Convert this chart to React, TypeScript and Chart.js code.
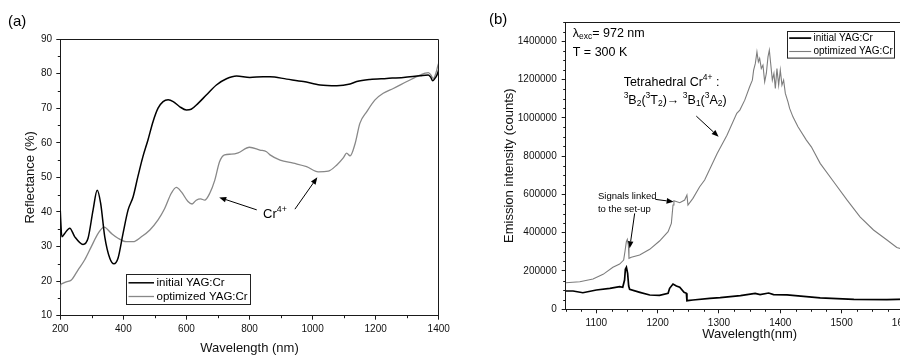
import React, { useEffect, useRef } from "react";
import { Chart, registerables } from "chart.js";

Chart.register(...registerables);

const FONT = "'Liberation Sans', Arial, Helvetica, sans-serif";
const SERIES = ["initial YAG:Cr", "optimized YAG:Cr"];

// ---------- Panel (a): diffuse reflectance ----------
const reflWlInitial = [200, 201, 205, 214, 230, 246, 272, 288, 304, 317, 328, 341, 357, 370, 383, 399, 415, 431, 446, 462, 478, 494, 510, 526, 542, 558, 579, 600, 615, 637, 663, 695, 727, 759, 801, 843, 865, 918, 971, 1024, 1077, 1119, 1140, 1182, 1235, 1288, 1341, 1367, 1375, 1381, 1388, 1394, 1400];
const reflInitial = [40.4, 38.2, 32.8, 33.8, 35.3, 32.8, 30.6, 32.4, 40.6, 46.3, 42.5, 32.8, 26.6, 25.0, 26.6, 33.8, 40.6, 44.4, 50.2, 56.0, 60.8, 66.1, 70.0, 71.9, 72.4, 71.9, 70.4, 69.5, 69.7, 71.4, 73.8, 76.7, 78.5, 79.3, 78.9, 79.1, 79.1, 78.4, 77.7, 76.7, 76.5, 77.0, 77.7, 78.3, 78.6, 78.9, 79.4, 79.6, 78.9, 77.9, 78.6, 79.5, 81.0];
const reflWlOptimized = [200, 201, 204, 219, 235, 256, 277, 298, 320, 339, 362, 383, 409, 431, 457, 484, 510, 531, 552, 568, 584, 605, 618, 631, 645, 658, 674, 690, 705, 721, 742, 764, 800, 833, 854, 865, 897, 939, 981, 1018, 1050, 1077, 1098, 1108, 1119, 1135, 1150, 1172, 1198, 1224, 1256, 1299, 1330, 1357, 1367, 1375, 1383, 1391, 1398, 1400];
const reflOptimized = [17.4, 18.9, 19.2, 19.8, 20.3, 23.2, 26.1, 29.9, 33.8, 35.6, 33.8, 32.4, 31.4, 31.4, 32.8, 34.8, 37.7, 41.0, 45.4, 47.1, 45.8, 43.0, 42.3, 43.4, 43.8, 43.4, 45.4, 49.2, 54.5, 56.5, 56.7, 57.1, 58.7, 57.9, 57.4, 56.5, 55.0, 54.1, 53.1, 51.6, 51.8, 53.6, 55.7, 57.0, 56.2, 59.8, 65.6, 69.0, 72.4, 74.3, 75.7, 77.7, 79.1, 80.1, 80.3, 79.6, 78.6, 80.1, 82.5, 83.0];
const reflXRange = [200, 1400];
const reflYRange = [10, 90];
const reflXSteps = [100, 200]; // minor, major
const reflYSteps = [5, 10];

// ---------- Panel (b): emission spectra ----------
const emWlInitial = [1050, 1062, 1078, 1100, 1122, 1138, 1143, 1146, 1147.3, 1149, 1151, 1152.7, 1154.3, 1171, 1187, 1203, 1217, 1219.5, 1225, 1230.5, 1236, 1243, 1246.8, 1247.7, 1257.5, 1285, 1302, 1335, 1359, 1367, 1381, 1389, 1411, 1465, 1520, 1574, 1608, 1620];
const emInitial = [95500, 95500, 86600, 100700, 109600, 117900, 114800, 152900, 208700, 219200, 187800, 121600, 104400, 88700, 74600, 73100, 83500, 109600, 132000, 121600, 114800, 88700, 83500, 44900, 48500, 57400, 61000, 71000, 83000, 77000, 85000, 77000, 75000, 60000, 52000, 50000, 53000, 54000];
const emWlOptimized = [1050, 1073, 1094.5, 1111, 1127, 1138, 1144.5, 1146.6, 1148.9, 1150.5, 1152.2, 1153.2, 1157, 1170.6, 1187, 1203, 1217, 1222.3, 1225, 1226.5, 1236, 1244, 1247.7, 1249.4, 1257.5, 1268.5, 1276.6, 1297, 1313, 1329, 1334, 1342, 1350, 1354.4, 1356.5, 1359.3, 1361.9, 1364.2, 1366.3, 1369, 1371.7, 1374.5, 1377.2, 1379.9, 1382.1, 1384.3, 1387, 1389.6, 1391.9, 1394.5, 1397.3, 1400, 1402.7, 1405.4, 1408.2, 1412.5, 1415.2, 1420.6, 1428.8, 1442.5, 1450.6, 1465, 1487, 1509, 1530, 1552, 1574, 1590, 1608, 1620];
const emOptimized = [138800, 144000, 158100, 182600, 219200, 236400, 257300, 300600, 352700, 365300, 335500, 266100, 271300, 283300, 313100, 356400, 404900, 448700, 544200, 566700, 556300, 570300, 596400, 544200, 579200, 639700, 674700, 814000, 909000, 1023000, 1040000, 1092000, 1161600, 1196500, 1248700, 1283600, 1344000, 1292000, 1309700, 1257500, 1274800, 1187600, 1231400, 1318000, 1353000, 1283600, 1196500, 1231400, 1153200, 1257500, 1170400, 1248700, 1170400, 1196500, 1127100, 1083300, 1048800, 1004900, 952800, 883400, 848400, 762000, 666000, 570000, 483000, 414000, 362000, 323000, 306000, 290000];
const emXRange = [1050, 1650];
const emYRange = [0, 1500000];
const emXSteps = [25, 100];
const emYSteps = [50000, 200000];

const AXIS = "#1a1a1a";

type Seg = { t: string; s?: "sup" | "sub" };
type Note =
  | { kind: "text"; x: number; y: number; size: number; segs: Seg[] }
  | { kind: "arrow"; x1: number; y1: number; x2: number; y2: number };

type LegendSpec = {
  x: number; y: number; w: number; h: number; size: number;
  s0: number; s1: number; tx: number; rows: number[];
};

type PanelSpec = {
  id: string;
  label: string;
  labelX: number;
  labelY: number;
  xSteps: number[];
  ySteps: number[];
  legend: LegendSpec;
  notes: Note[];
};

function isMajor(v: number, step: number) {
  const r = v / step;
  return Math.abs(r - Math.round(r)) < 1e-6;
}

function drawRich(ctx: CanvasRenderingContext2D, segs: Seg[], x: number, y: number, size: number) {
  let cx = x;
  ctx.textBaseline = "middle";
  ctx.textAlign = "left";
  for (const seg of segs) {
    const fs = seg.s ? size * 0.68 : size;
    ctx.font = `${fs}px ${FONT}`;
    const dy = seg.s === "sup" ? -size * 0.36 : seg.s === "sub" ? size * 0.3 : 0;
    ctx.fillText(seg.t, cx, y + dy);
    cx += ctx.measureText(seg.t).width;
  }
}

function drawArrow(ctx: CanvasRenderingContext2D, x1: number, y1: number, x2: number, y2: number) {
  const ang = Math.atan2(y2 - y1, x2 - x1);
  const L = 7, W = 2.8;
  const bx = x2 - L * Math.cos(ang), by = y2 - L * Math.sin(ang);
  ctx.beginPath();
  ctx.moveTo(x1, y1);
  ctx.lineTo(bx, by);
  ctx.stroke();
  ctx.beginPath();
  ctx.moveTo(x2, y2);
  ctx.lineTo(bx + W * Math.sin(ang), by - W * Math.cos(ang));
  ctx.lineTo(bx - W * Math.sin(ang), by + W * Math.cos(ang));
  ctx.closePath();
  ctx.fill();
}

function makeOverlay(spec: PanelSpec) {
  return {
    id: "overlay_" + spec.id,
    afterDraw(chart: any) {
      const { ctx, chartArea: a, scales } = chart;
      const xs = scales.x, ys = scales.y;
      ctx.save();
      ctx.strokeStyle = AXIS;
      ctx.fillStyle = "#000";
      ctx.lineWidth = 1;
      // frame top and right
      const top = Math.round(a.top) + 0.5;
      const right = Math.round(a.right) - 0.5;
      ctx.beginPath();
      ctx.moveTo(a.left, top);
      ctx.lineTo(right, top);
      ctx.lineTo(right, a.bottom);
      ctx.stroke();
      // minor ticks
      ctx.beginPath();
      for (const t of xs.ticks) {
        if (isMajor(t.value, spec.xSteps[1])) continue;
        const p = Math.round(xs.getPixelForValue(t.value)) + 0.5;
        ctx.moveTo(p, a.bottom);
        ctx.lineTo(p, a.bottom + 2.5);
      }
      for (const t of ys.ticks) {
        if (isMajor(t.value, spec.ySteps[1])) continue;
        const p = Math.round(ys.getPixelForValue(t.value)) + 0.5;
        ctx.moveTo(a.left, p);
        ctx.lineTo(a.left - 2.5, p);
      }
      ctx.stroke();
      // panel label
      ctx.font = `15px ${FONT}`;
      ctx.textBaseline = "middle";
      ctx.textAlign = "left";
      ctx.fillText(spec.label, spec.labelX, spec.labelY);
      // annotations
      ctx.strokeStyle = "#000";
      for (const n of spec.notes) {
        if (n.kind === "text") {
          drawRich(ctx, n.segs, xs.getPixelForValue(n.x), ys.getPixelForValue(n.y), n.size);
        } else {
          drawArrow(ctx, xs.getPixelForValue(n.x1), ys.getPixelForValue(n.y1), xs.getPixelForValue(n.x2), ys.getPixelForValue(n.y2));
        }
      }
      // legend
      const lg = spec.legend;
      const lx = Math.round(xs.getPixelForValue(lg.x)) + 0.5;
      const ly = Math.round(ys.getPixelForValue(lg.y)) + 0.5;
      ctx.fillStyle = "#fff";
      ctx.fillRect(lx, ly, lg.w, lg.h);
      ctx.strokeStyle = "#222";
      ctx.lineWidth = 1;
      ctx.strokeRect(lx, ly, lg.w, lg.h);
      chart.data.datasets.forEach((ds: any, i: number) => {
        const ry = ly + lg.rows[i];
        ctx.strokeStyle = ds.borderColor;
        ctx.lineWidth = ds.borderWidth;
        ctx.beginPath();
        ctx.moveTo(lx + lg.s0, ry);
        ctx.lineTo(lx + lg.s1, ry);
        ctx.stroke();
        ctx.fillStyle = "#000";
        ctx.font = `${lg.size}px ${FONT}`;
        ctx.textBaseline = "middle";
        ctx.fillText(ds.label, lx + lg.tx, ry);
      });
      ctx.restore();
    },
  };
}

function axisOptions(opts: {
  range: number[]; steps: number[]; title: string; titlePad: any; size: number; horizontal: boolean; tickPad: number;
}) {
  return {
    type: "linear",
    min: opts.range[0],
    max: opts.range[1],
    afterFit: (s: any) => {
      if (opts.horizontal) s.height = opts.size;
      else s.width = opts.size;
    },
    border: { display: true, color: AXIS, width: 1 },
    grid: {
      drawOnChartArea: false,
      drawTicks: true,
      tickLength: 4,
      tickColor: (c: any) => (c.tick && isMajor(c.tick.value, opts.steps[1]) ? AXIS : "rgba(0,0,0,0)"),
    },
    ticks: {
      stepSize: opts.steps[0],
      autoSkip: false,
      maxRotation: 0,
      padding: opts.tickPad,
      color: "#111",
      font: { family: FONT, size: 10 },
      callback: (v: number) => (isMajor(v, opts.steps[1]) ? String(v) : ""),
    },
    title: {
      display: true,
      text: opts.title,
      color: "#111",
      font: { family: FONT, size: 13 },
      padding: opts.titlePad,
    },
  };
}

function toPoints(xs: number[], ys: number[]) {
  return xs.map((x, i) => ({ x, y: ys[i] }));
}

function ChartCanvas(props: { width: number; height: number; left: number; build: () => any }) {
  const ref = useRef<HTMLCanvasElement | null>(null);
  useEffect(() => {
    if (!ref.current) return;
    const chart = new Chart(ref.current, props.build());
    return () => chart.destroy();
  }, []);
  return (
    <canvas
      ref={ref}
      width={props.width}
      height={props.height}
      style={{ position: "absolute", left: props.left, top: 0, width: props.width, height: props.height }}
    />
  );
}

function buildReflectance() {
  const spec: PanelSpec = {
    id: "a",
    label: "(a)",
    labelX: 0,
    labelY: 14,
    xSteps: reflXSteps,
    ySteps: reflYSteps,
    legend: { x: 407.4, y: 22.06, w: 124, h: 30, size: 11.5, s0: 2, s1: 27.5, tx: 30, rows: [8.3, 22] },
    notes: [
      { kind: "text", x: 843, y: 39.4, size: 13, segs: [{ t: "Cr" }, { t: "4+", s: "sup" }] },
      { kind: "arrow", x1: 823, y1: 40.6, x2: 704, y2: 44.2 },
      { kind: "arrow", x1: 944, y1: 40.8, x2: 1015, y2: 50 },
    ],
  };
  return {
    type: "line",
    data: {
      datasets: [
        { label: SERIES[0], data: toPoints(reflWlInitial, reflInitial), borderColor: "#000", borderWidth: 1.5, pointRadius: 0, cubicInterpolationMode: "monotone" },
        { label: SERIES[1], data: toPoints(reflWlOptimized, reflOptimized), borderColor: "#888", borderWidth: 1.3, pointRadius: 0, cubicInterpolationMode: "monotone" },
      ],
    },
    options: {
      responsive: false,
      maintainAspectRatio: false,
      animation: false,
      devicePixelRatio: 1,
      layout: { padding: { left: 0, top: 31, right: 19.3, bottom: 0 } },
      plugins: { legend: { display: false }, tooltip: { enabled: false } },
      scales: {
        x: axisOptions({ range: reflXRange, steps: reflXSteps, title: "Wavelength (nm)", titlePad: { top: 0, bottom: 0 }, size: 40.3, horizontal: true, tickPad: 3.3 }),
        y: axisOptions({ range: reflYRange, steps: reflYSteps, title: "Reflectance (%)", titlePad: { top: 14.2, bottom: 0 }, size: 52.3, horizontal: false, tickPad: 4.3 }),
      },
    },
    plugins: [makeOverlay(spec)],
  };
}

function buildEmission() {
  const spec: PanelSpec = {
    id: "b",
    label: "(b)",
    labelX: 29,
    labelY: 12,
    xSteps: emXSteps,
    ySteps: emYSteps,
    legend: { x: 1410.8, y: 1453700, w: 107, h: 26.6, size: 10, s0: 1.7, s1: 23.7, tx: 26, rows: [6.6, 20] },
    notes: [
      { kind: "text", x: 1061.5, y: 1441700, size: 12.5, segs: [{ t: "λ" }, { t: "exc", s: "sub" }, { t: "= 972 nm" }] },
      { kind: "text", x: 1061.5, y: 1342600, size: 12.5, segs: [{ t: "T = 300 K" }] },
      { kind: "text", x: 1144.5, y: 1183400, size: 12.5, segs: [{ t: "Tetrahedral Cr" }, { t: "4+", s: "sup" }, { t: " :" }] },
      {
        kind: "text", x: 1144.5, y: 1092100, size: 12.5,
        segs: [
          { t: "3", s: "sup" }, { t: "B" }, { t: "2", s: "sub" }, { t: "(" }, { t: "3", s: "sup" }, { t: "T" }, { t: "2", s: "sub" },
          { t: ")→ " }, { t: "3", s: "sup" }, { t: "B" }, { t: "1", s: "sub" }, { t: "(" }, { t: "3", s: "sup" }, { t: "A" }, { t: "2", s: "sub" }, { t: ")" },
        ],
      },
      { kind: "arrow", x1: 1263, y1: 1008600, x2: 1299.4, y2: 900600 },
      { kind: "text", x: 1102.6, y: 589600, size: 9.5, segs: [{ t: "Signals linked" }] },
      { kind: "text", x: 1102.6, y: 521800, size: 9.5, segs: [{ t: "to the set-up" }] },
      { kind: "arrow", x1: 1196.2, y1: 574000, x2: 1226, y2: 561400 },
      { kind: "arrow", x1: 1162.5, y1: 500900, x2: 1154.3, y2: 318300 },
    ],
  };
  return {
    type: "line",
    data: {
      datasets: [
        { label: SERIES[0], data: toPoints(emWlInitial, emInitial), borderColor: "#000", borderWidth: 1.7, pointRadius: 0 },
        { label: SERIES[1], data: toPoints(emWlOptimized, emOptimized), borderColor: "#7d7d7d", borderWidth: 1.1, pointRadius: 0 },
      ],
    },
    options: {
      responsive: false,
      maintainAspectRatio: false,
      animation: false,
      devicePixelRatio: 1,
      layout: { padding: { left: 0, top: 14, right: 10.4, bottom: 0 } },
      plugins: { legend: { display: false }, tooltip: { enabled: false } },
      scales: {
        x: axisOptions({ range: emXRange, steps: emXSteps, title: "Wavelength(nm)", titlePad: { top: 0, bottom: 14.2 }, size: 46.7, horizontal: true, tickPad: 3.7 }),
        y: axisOptions({ range: emYRange, steps: emYSteps, title: "Emission intensity (counts)", titlePad: { top: 41.2, bottom: 0 }, size: 105.7, horizontal: false, tickPad: 5 }),
      },
    },
    plugins: [makeOverlay(spec)],
  };
}

export default function App() {
  useEffect(() => {
    document.documentElement.style.overflow = "hidden";
    document.body.style.overflow = "hidden";
    const root = document.getElementById("root");
    if (root) root.style.width = "900px";
  }, []);
  return (
    <div style={{ position: "relative", width: 900, height: 348, overflow: "hidden", background: "#fff" }}>
      <ChartCanvas width={450} height={348} left={0} build={buildReflectance} />
      <ChartCanvas width={484} height={348} left={452} build={buildEmission} />
    </div>
  );
}
